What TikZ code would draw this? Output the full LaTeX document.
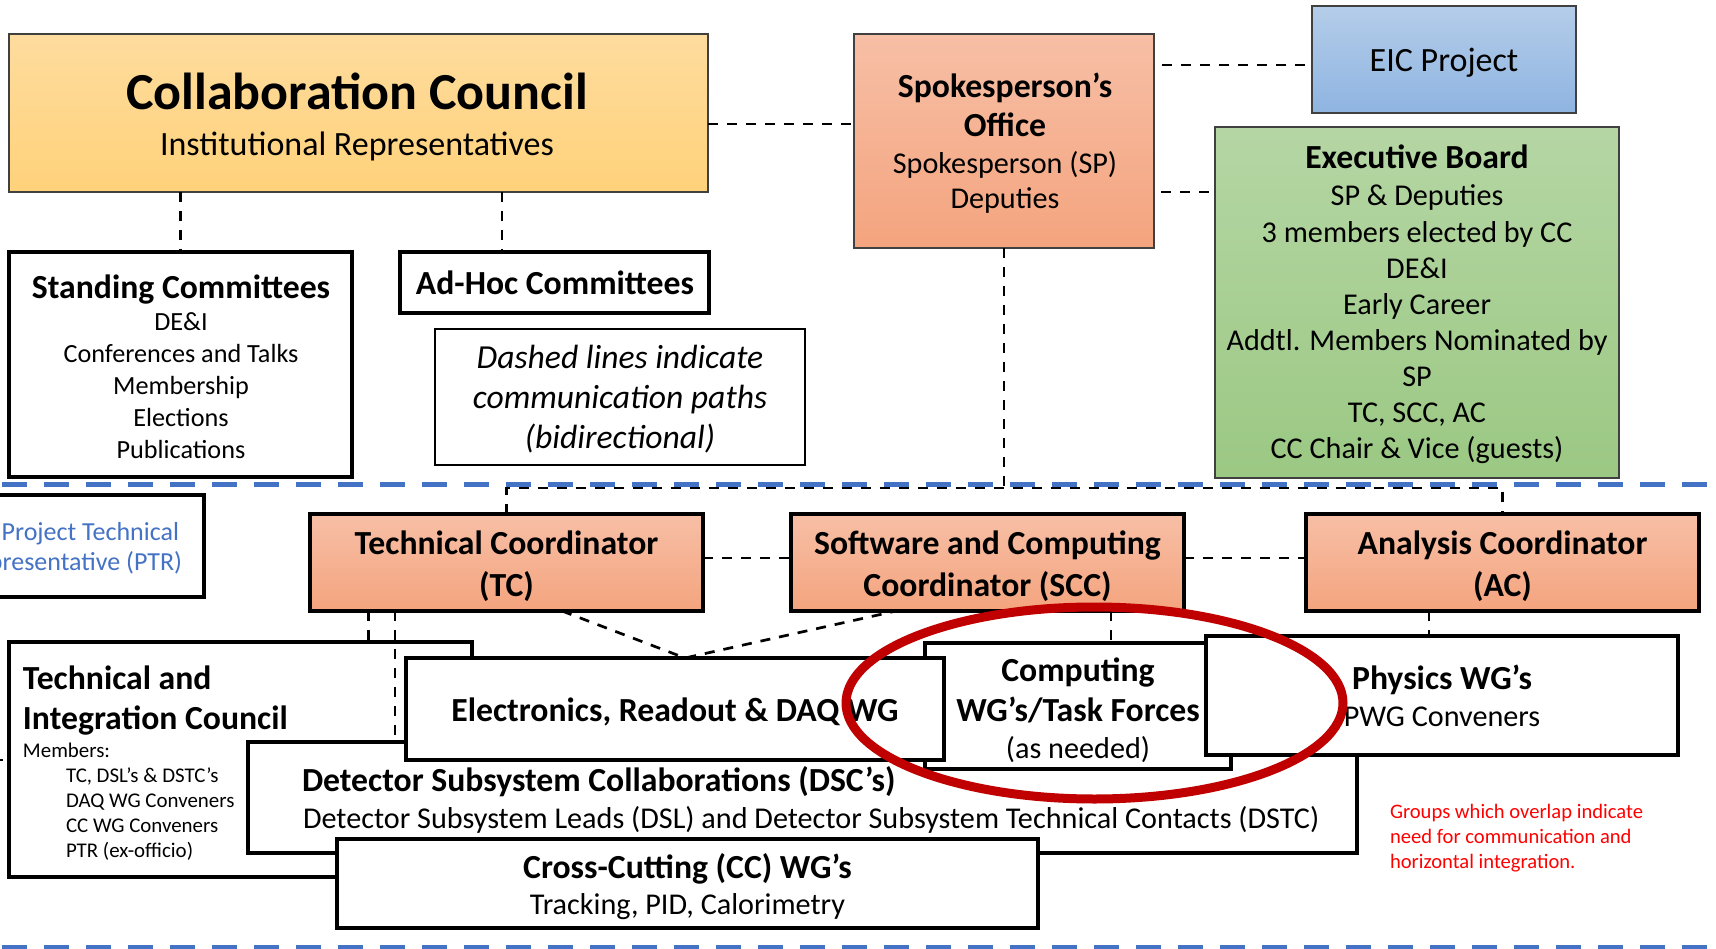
\documentclass[tikz,border=0pt]{standalone}
\usepackage{fontspec}
\setmainfont{Carlito}
\usetikzlibrary{fit}
\definecolor{sepblue}{HTML}{4472C4}
\definecolor{ptrblue}{HTML}{4472C4}
\definecolor{ccTop}{HTML}{FEDC9E}
\definecolor{ccBot}{HTML}{FFD27A}
\definecolor{salTop}{HTML}{F7BFA6}
\definecolor{salBot}{HTML}{F4A47E}
\definecolor{eicTop}{HTML}{B4CDE9}
\definecolor{eicBot}{HTML}{8FB4E1}
\definecolor{ebTop}{HTML}{B5D6A4}
\definecolor{ebBot}{HTML}{9BC883}
\definecolor{ringred}{HTML}{C00000}
\definecolor{notered}{HTML}{FF0000}
\definecolor{edgegray}{HTML}{404040}

\begin{document}
\begin{tikzpicture}[x=1pt,y=-1pt,
  box/.style={draw=black, line width=3.2pt, fill=white, inner sep=0pt, outer sep=0pt},
  softbox/.style={draw=edgegray, line width=1.8pt, inner sep=0pt, outer sep=0pt},
  ccbox/.style={softbox, top color=ccTop, bottom color=ccBot},
  sobox/.style={softbox, top color=salTop, bottom color=salBot},
  coordbox/.style={box, top color=salTop, bottom color=salBot},
  eicbox/.style={softbox, top color=eicTop, bottom color=eicBot},
  ebbox/.style={softbox, top color=ebTop, bottom color=ebBot},
  notebox/.style={draw=black, line width=2pt, fill=white, inner sep=0pt, outer sep=0pt},
  txt/.style={inner sep=0pt, outer sep=0pt, anchor=base},
  ltxt/.style={inner sep=0pt, outer sep=0pt, anchor=base west},
  rtxt/.style={inner sep=0pt, outer sep=0pt, anchor=base east},
  bigtitle/.style={font=\fontsize{52}{60}\selectfont\bfseries},
  ttl/.style={font=\fontsize{33.7}{40}\selectfont\bfseries},
  reg34/.style={font=\fontsize{34}{40}\selectfont},
  reg30/.style={font=\fontsize{30.2}{36}\selectfont},
  reg26/.style={font=\fontsize{26.2}{31}\selectfont},
  small/.style={font=\fontsize{20.9}{25}\selectfont},
  ital/.style={font=\fontsize{33.6}{40}\selectfont\itshape},
  conn/.style={draw=black, line width=2.7pt, dash pattern=on 10pt off 9pt},
  sepline/.style={draw=sepblue, line width=5pt, dash pattern=on 25pt off 17pt},
  ring/.style={draw=ringred, line width=9pt},
]
\useasboundingbox (0,0) rectangle (1716,949);
\clip (0,0) rectangle (1716,949);

% horizontal separators
\draw[sepline] (2,484) -- (1716,484);
\draw[sepline] (2,947) -- (1716,947);

% ---------- upper part ----------
\node[ccbox, fit={(9,34) (708,192)}] (cc) {};
\node[txt, bigtitle] (cc-t) at (357,110) {Collaboration Council};
\node[txt, reg34] (cc-s) at (357,156) {Institutional Representatives};

\node[sobox, fit={(854,34) (1154,248)}] (so) {};
\node[txt, ttl] (so-t1) at (1005,98) {Spokesperson’s};
\node[txt, ttl] (so-t2) at (1005,137) {Office};
\node[txt, reg30] (so-l1) at (1005,174) {Spokesperson (SP)};
\node[txt, reg30] (so-l2) at (1005,209) {Deputies};

\node[eicbox, fit={(1312,6) (1576,113)}] (eic) {};
\node[txt, reg34] (eic-t) at (1444,72) {EIC Project};

\node[ebbox, fit={(1215,127) (1619,478)}] (eb) {};
\node[txt, ttl] (eb-t) at (1417,169) {Executive Board};
\foreach \t [count=\i] in {SP \& Deputies, 3 members elected by CC, DE\&I, Early Career,
    Addtl. Members Nominated by, SP, {TC, SCC, AC}, CC Chair \& Vice (guests)}
  \node[txt, reg30] (eb-l\i) at (1417,{206+36.14*(\i-1)}) {\t};

\node[box, fit={(9,252) (352,477)}] (sc) {};
\node[txt, ttl] (sc-t) at (181,298.5) {Standing Committees};
\foreach \t [count=\i] in {DE\&I, Conferences and Talks, Membership, Elections, Publications}
  \node[txt, reg26] (sc-l\i) at (181,{331+31.75*(\i-1)}) {\t};

\node[box, fit={(400,252) (709,313)}] (ah) {};
\node[txt, ttl] (ah-t) at (555,295) {Ad-Hoc Committees};

\node[notebox, fit={(434.5,329) (805,465)}] (note) {};
\node[txt, ital] (note-l1) at (620,368.5) {Dashed lines indicate};
\node[txt, ital] (note-l2) at (620,408.5) {communication paths};
\node[txt, ital] (note-l3) at (620,448.5) {(bidirectional)};

% ---------- coordinators ----------
\node[box, fit={(-60,495) (204,597)}] (ptr) {};
\node[rtxt, font=\fontsize{26}{31}\selectfont, text=ptrblue] (ptr-l1) at (179,540) {Project Technical};
\node[rtxt, font=\fontsize{26}{31}\selectfont, text=ptrblue] (ptr-l2) at (182,570) {Representative (PTR)};

\node[coordbox, fit={(310,514) (703,611)}] (tc) {};
\node[txt, ttl] (tc-l1) at (506.5,554) {Technical Coordinator};
\node[txt, ttl] (tc-l2) at (506.5,596) {(TC)};

\node[coordbox, fit={(791,514) (1184,611)}] (scc) {};
\node[txt, ttl] (scc-l1) at (987.5,554) {Software and Computing};
\node[txt, ttl] (scc-l2) at (987.5,596) {Coordinator (SCC)};

\node[coordbox, fit={(1306,514) (1699,611)}] (ac) {};
\node[txt, ttl] (ac-l1) at (1502.5,554) {Analysis Coordinator};
\node[txt, ttl] (ac-l2) at (1502.5,596) {(AC)};

% ---------- working groups (overlapping) ----------
\node[box, fit={(9,642) (472,877)}] (tic) {};
\node[ltxt, ttl] (tic-t1) at (23,689) {Technical and};
\node[ltxt, ttl] (tic-t2) at (23,729) {Integration Council};
\node[ltxt, small] (tic-m) at (23,757) {Members:};
\foreach \t [count=\i] in {TC{,} DSL’s \& DSTC’s, DAQ WG Conveners, CC WG Conveners, PTR (ex-officio)}
  \node[ltxt, small] (tic-l\i) at (66,{782+25*(\i-1)}) {\t};

\node[box, fit={(248,742) (1357,853)}] (dsc) {};
\node[ltxt, ttl] (dsc-t) at (302,791) {Detector Subsystem Collaborations (DSC’s)};
\node[ltxt, reg30] (dsc-l) at (303,828) {Detector Subsystem Leads (DSL) and Detector Subsystem Technical Contacts (DSTC)};

\node[box, fit={(337,839) (1038,928)}] (ccwg) {};
\node[txt, ttl] (ccwg-t) at (687.5,878) {Cross-Cutting (CC) WG’s};
\node[txt, reg30] (ccwg-l) at (687.5,914) {Tracking, PID, Calorimetry};

\node[box, fit={(925,643) (1231,769)}] (comp) {};
\node[txt, ttl] (comp-t1) at (1078,681) {Computing};
\node[txt, ttl] (comp-t2) at (1078,721) {WG’s/Task Forces};
\node[txt, reg30] (comp-l) at (1078,758) {(as needed)};

\node[box, fit={(1206,636) (1678,755)}] (phys) {};
\node[txt, ttl] (phys-t) at (1442,689) {Physics WG’s};
\node[txt, reg30] (phys-l) at (1442,726) {PWG Conveners};

\node[box, fit={(406,658) (944,760)}] (elec) {};
\node[txt, ttl] (elec-t) at (675,721) {Electronics, Readout \& DAQ WG};

% ---------- communication paths ----------
\coordinate (bus) at (0,488);
\coordinate (ahtop) at ([xshift=-52.5pt]ah.north);
\coordinate (ccso) at ([yshift=-11pt]cc.east);
\coordinate (eicin) at ([yshift=-5.5pt]eic.west);
\coordinate (ebin) at ([yshift=110.5pt]eb.west);
\coordinate (tcs) at ([yshift=4.5pt]tc.east);
\coordinate (scs) at ([yshift=4.5pt]scc.east);
\coordinate (tcA) at ([xshift=-138pt]tc.south);
\coordinate (tcB) at ([xshift=-111.5pt]tc.south);
\coordinate (tcC) at ([xshift=55.5pt]tc.south);
\coordinate (elecTop) at ([xshift=10pt]elec.north);
\coordinate (sccC) at ([xshift=-91.5pt]scc.south);
\coordinate (sccD) at ([xshift=123.5pt]scc.south);
\coordinate (acD) at ([xshift=-73.5pt]ac.south);
\coordinate (ptrlink) at (-7,760);

\draw[conn] (sc.north |- cc.south) -- (sc.north);
\draw[conn] (ahtop |- cc.south) -- (ahtop);
\draw[conn] (ccso) -- (ccso -| so.west);
\draw[conn, shorten <=8pt] (eicin -| so.east) -- (eicin);
\draw[conn, shorten <=7pt] (ebin -| so.east) -- (ebin);
\draw[conn] (so.south) -- (so.south |- bus);
\draw[conn] (tc.north) -- (tc.north |- bus) -- (ac.north |- bus) -- (ac.north);
\draw[conn] (tcs) -- (tcs -| scc.west);
\draw[conn] (scs) -- (scs -| ac.west);
\draw[conn] (tcA) -- (tcA |- tic.north);
\draw[conn] (tcB) -- (tcB |- dsc.north);
\draw[conn] (tcC) -- (elecTop) -- (sccC);
\draw[conn] (sccD) -- (sccD |- comp.north);
\draw[conn] (acD) -- (acD |- phys.north);
\draw[conn] (ptrlink) -- (ptrlink -| tic.west);

% overlap highlight
\draw[ring] (1094.5,703) ellipse [x radius=248.5, y radius=96];

% remark on overlaps
\foreach \t [count=\i] in {Groups which overlap indicate, need for communication and, horizontal integration.}
  \node[ltxt, font=\fontsize{20.6}{25}\selectfont, text=notered] (rem-l\i) at (1390,{818+25*(\i-1)}) {\t};
\end{tikzpicture}
\end{document}
